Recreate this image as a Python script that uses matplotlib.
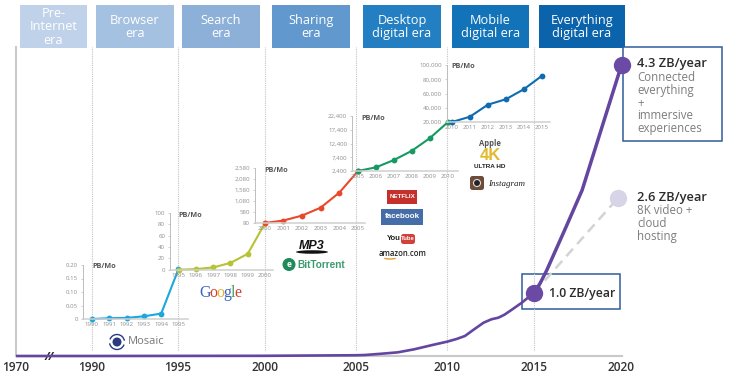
import numpy as np
import matplotlib
matplotlib.use("Agg")
import matplotlib.pyplot as plt
from matplotlib.patches import Rectangle, Circle, Ellipse, FancyBboxPatch, Arc

plt.rcParams['font.family'] = ['Open Sans', 'DejaVu Sans']

W, H = 730, 380

# ---------- data ----------
era_labels = ["Pre-\nInternet\nera", "Browser\nera", "Search\nera", "Sharing\nera",
              "Desktop\ndigital era", "Mobile\ndigital era", "Everything\ndigital era"]
era_left = [20, 96, 182, 272, 363, 452, 539]
era_right = [87, 174, 260, 350, 441, 529, 625]
era_colors = ["#bfd2ea", "#a5c1e1", "#8db0d9", "#6199cf", "#237fc1", "#1273b8", "#0b63ab"]

year_knots = [1970, 1990, 1995, 2000, 2005, 2010, 2015, 2020]
year_px = [16, 91.5, 177.5, 264.5, 356, 447, 534, 621.5]
zb_knots = [0, 1.0, 2.6, 4.3, 4.6]
zb_px = [356, 292.7, 198, 65, 47]

early_years = [1970, 1990, 2000, 2005, 2005.5, 2006.4, 2007.3, 2008.2, 2009.2, 2010, 2010.55,
               2011.03, 2011.5, 2012.1, 2012.55, 2012.95, 2013.3, 2013.7, 2014.3, 2015]
early_zb = [0, 0, 0.003, 0.012, 0.016, 0.036, 0.058, 0.106, 0.174, 0.226, 0.269,
            0.316, 0.41, 0.526, 0.58, 0.605, 0.652, 0.727, 0.842, 1.0]
late_years = [2015, 2015.35, 2015.73, 2016.8, 2017.75, 2020]
late_zb = [1.0, 1.159, 1.38, 2.09, 2.70, 4.3]
low_years = [2015, 2019.8]
low_zb = [1.0, 2.6]
era_year_lines = [1990, 1995, 2000, 2005, 2010, 2015]
main_ticks = [1970, 1990, 1995, 2000, 2005, 2010, 2015, 2020]

y90 = [1990, 1991, 1992, 1993, 1994, 1995]
v90 = [0, 0.003, 0.004, 0.01, 0.02, 0.185]
t90 = [0, 0.05, 0.10, 0.15, 0.20]
l90 = ["0", "0.05", "0.10", "0.15", "0.20"]

y95 = [1995, 1996, 1997, 1998, 1999, 2000]
v95 = [0, 1, 4, 12, 28, 82]
t95 = [0, 20, 40, 60, 80, 100]
l95 = ["0", "20", "40", "60", "80", "100"]

y00 = [2000, 2001, 2002, 2003, 2004, 2005]
v00 = [80, 190, 415, 775, 1460, 2440]
t00 = [80, 580, 1080, 1580, 2080, 2580]
l00 = ["80", "580", "1,080", "1,580", "2,080", "2,580"]

y05 = [2005, 2006, 2007, 2008, 2009, 2010]
v05 = [2400, 3745, 6400, 9780, 14400, 20200]
t05 = [2400, 7400, 12400, 17400, 22400]
l05 = ["2,400", "7,400", "12,400", "17,400", "22,400"]

y10 = [2010, 2011, 2012, 2013, 2014, 2015]
v10 = [20000, 27400, 44300, 51900, 65900, 84600]
t10 = [20000, 40000, 60000, 80000, 100000]
l10 = ["20,000", "40,000", "60,000", "80,000", "100,000"]

# ---------- figure ----------
fig = plt.figure(figsize=(W / 100, H / 100), dpi=100, facecolor="white")


def px_axes(x0, x1, ytop, ybot, z):
    ax = fig.add_axes([x0 / W, 1 - ybot / H, (x1 - x0) / W, (ybot - ytop) / H], zorder=z)
    ax.patch.set_alpha(0)
    return ax


# overlay in pixel coordinates: headers, callouts, logos
ov = fig.add_axes([0, 0, 1, 1], zorder=0)
ov.set_xlim(0, W)
ov.set_ylim(H, 0)
ov.axis("off")

for lab, a, b, c in zip(era_labels, era_left, era_right, era_colors):
    ov.add_patch(Rectangle((a, 5), b - a, 43, fc=c, ec="none"))
    ov.text((a + b) / 2, 27, lab, color="white", ha="center", va="center", fontsize=9.2,
            linespacing=1.02)

ov.add_patch(Rectangle((623, 47), 99, 94, fc="white", ec="#2f5c9c", lw=1.1))
ov.add_patch(Rectangle((521.7, 274), 98.3, 35, fc="white", ec="#2f5c9c", lw=1.1))

dark = "#2b2b2b"
grey = "#7d7d7d"
ov.text(637, 64, "4.3 ZB/year", color=dark, fontsize=9.3, fontweight="semibold", va="center")
ov.text(637, 71, "Connected\neverything\n+\nimmersive\nexperiences", color=grey, fontsize=8.3,
        va="top", linespacing=0.98)
ov.text(637, 198, "2.6 ZB/year", color=dark, fontsize=9.3, fontweight="semibold", va="center")
ov.text(637, 204, "8K video +\ncloud\nhosting", color=grey, fontsize=8.3, va="top", linespacing=0.98)
ov.text(549, 293, "1.0 ZB/year", color=dark, fontsize=8.8, fontweight="semibold", va="center")
ov.text(49, 357, "//", color="#222222", fontsize=8, fontweight="bold", style="italic",
        ha="center", va="center", zorder=6)

# PB/Mo labels
for x, y in zip([92, 178, 264.7, 361, 451], [266.7, 215.7, 171, 118, 66]):
    ov.text(x, y, "PB/Mo", color="#555555", fontsize=5.2, fontweight="bold", va="center")

# logos as text
ov.add_patch(Circle((117, 342), 4.5, fc="#2b3a80", ec="none"))
ov.add_patch(Arc((117, 342), 15, 15, theta1=200, theta2=350, ec="#2b3a80", lw=1))
ov.add_patch(Arc((117, 342), 15, 15, theta1=20, theta2=170, ec="#2b3a80", lw=1))
ov.text(128, 342, "Mosaic", color="#777777", fontsize=8, va="center")

gx = 199.5
for ch, col, adv in zip("Google", ["#3b67c4", "#d6402f", "#e6b32e", "#3b67c4", "#3f9a4a", "#d6402f"],
                        [10, 7, 7, 7, 4, 7]):
    ov.text(gx, 293, ch, color=col, fontsize=11.5, family="Liberation Serif", va="center")
    gx += adv

ov.text(312, 246, "MP3", color="#111111", fontsize=9, fontweight="bold", style="italic",
        ha="center", va="center", family="Liberation Sans")
ov.add_patch(Ellipse((312, 252), 32, 3.5, fc="#111111", ec="none"))
ov.add_patch(Circle((289, 264.5), 6.5, fc="#1f8a5b", ec="none"))
ov.text(289, 264.5, "e", color="white", fontsize=6, fontweight="bold", ha="center", va="center")
ov.text(297, 265, "BitTorrent", color="#3c9a70", fontsize=7.2, fontweight="bold", va="center",
        family="Liberation Sans")

ov.add_patch(Rectangle((387, 190), 30, 14, fc="#c4302b", ec="none"))
ov.text(402, 197, "NETFLIX", color="white", fontsize=4.5, fontweight="bold", ha="center", va="center",
        family="Liberation Sans")
ov.add_patch(Rectangle((381, 209), 42, 16, fc="#456ea8", ec="none"))
ov.text(402, 217, "facebook", color="white", fontsize=5.8, fontweight="bold", ha="center", va="center",
        family="Liberation Sans")
ov.add_patch(FancyBboxPatch((401, 234), 14, 10, boxstyle="round,pad=0,rounding_size=2.5",
                            fc="#d2403a", ec="none"))
ov.text(401, 239, "You", color="#222222", fontsize=5.6, fontweight="bold", ha="right", va="center",
        family="Liberation Sans")
ov.text(408, 239, "Tube", color="white", fontsize=4.2, fontweight="bold", ha="center", va="center",
        family="Liberation Sans")
ov.text(403, 254, "amazon.com", color="#222222", fontsize=5.6, ha="center", va="center",
        fontweight="semibold")
ov.add_patch(Arc((390, 255), 20, 8, theta1=30, theta2=150, ec="#e89a2c", lw=1))

ov.text(490, 143, "Apple", color="#555555", fontsize=5.5, fontweight="bold", ha="center", va="center")
ov.text(490, 156, "4K", color="#e2b92f", fontsize=12, fontweight="bold", ha="center", va="center",
        family="Liberation Sans")
ov.text(490, 167, "ULTRA HD", color="#222222", fontsize=4.6, fontweight="bold", ha="center", va="center",
        family="Liberation Sans")
ov.add_patch(FancyBboxPatch((470, 176), 14, 14, boxstyle="round,pad=0,rounding_size=2.5",
                            fc="#6d4c3a", ec="none"))
ov.add_patch(Circle((477, 183), 3.5, fc="#222222", ec="#dddddd", lw=0.8))
ov.text(488, 183.5, "Instagram", color="#222222", fontsize=6.5, style="italic", va="center",
        family="Liberation Serif")

# ---------- main chart ----------
ax = px_axes(16, 621.5, 47, 356, 1)


def year_fwd(v):
    return np.interp(v, year_knots, year_px)


def year_inv(v):
    return np.interp(v, year_px, year_knots)


def zb_fwd(v):
    return -np.interp(v, zb_knots, zb_px)


def zb_inv(v):
    return np.interp(-np.asarray(v), zb_px[::-1], zb_knots[::-1])


ax.set_xscale("function", functions=(year_fwd, year_inv))
ax.set_yscale("function", functions=(zb_fwd, zb_inv))
ax.set_xlim(1970, 2020)
ax.set_ylim(0, 4.6)
for s in ["top", "right"]:
    ax.spines[s].set_visible(False)
ax.spines["left"].set_color("#c9c9c9")
ax.spines["left"].set_linewidth(1.5)
ax.spines["bottom"].set_color("#c9c9c9")
ax.spines["bottom"].set_linewidth(1.5)
ax.set_yticks([])
ax.minorticks_off()
ax.set_xticks(main_ticks)
ax.set_xticklabels([str(t) for t in main_ticks])
ax.tick_params(axis="x", which="both", length=0, pad=3.5, labelsize=8.6, labelcolor="#333333")
ax.tick_params(axis="y", which="both", length=0, labelleft=False)
for lab in ax.get_xticklabels():
    lab.set_fontweight("semibold")

ax.vlines(era_year_lines, 0.095, 4.6, colors="#c4c4c4", lw=0.8, linestyles=(0, (1, 1)), zorder=1)
ax.plot(low_years, low_zb, color="#d3d3d3", lw=1.8, ls=(0, (4, 2.5)), clip_on=False, zorder=2)
ax.plot(early_years, early_zb, color="#64459f", lw=1.9, clip_on=False, zorder=4,
        solid_capstyle="butt", solid_joinstyle="round")
ax.plot(late_years, late_zb, color="#64459f", lw=2.5, clip_on=False, zorder=4,
        solid_capstyle="butt", solid_joinstyle="round")
ax.plot([2015, 2020], [1.0, 4.3], ls="none", marker="o", ms=12.5, color="#6a4aa5", mec="none",
        clip_on=False, zorder=5)
ax.plot([2019.8], [2.6], ls="none", marker="o", ms=12.5, color="#d8d4e8", mec="none",
        clip_on=False, zorder=3)


# ---------- inset charts ----------
def inset(x0, x1, ytop, ybot, xa, xb, ya, yb, years, vals, ticks, labels, color):
    a = px_axes(x0, x1, ytop, ybot, 2)
    span = (years[-1] - years[0]) / (xb - xa)
    a.set_xlim(years[0] - (xa - x0) * span, years[-1] + (x1 - xb) * span)
    a.set_ylim(ya, yb)
    for s in ["top", "right"]:
        a.spines[s].set_visible(False)
    a.spines["left"].set_color("#bdbdbd")
    a.spines["left"].set_linewidth(0.7)
    a.spines["bottom"].set_color("#cfcfcf")
    a.spines["bottom"].set_linewidth(1.1)
    a.set_xticks(years)
    a.set_xticklabels([str(y) for y in years])
    a.set_yticks(ticks)
    a.set_yticklabels(labels)
    a.tick_params(axis="x", length=0, pad=2.5, labelsize=4.4, labelcolor="#8f8f8f")
    a.tick_params(axis="y", length=1.5, width=0.5, color="#bdbdbd", pad=2, labelsize=4.4,
                  labelcolor="#8f8f8f")
    a.plot(years, vals, color=color, lw=1.5, marker="o", ms=4.2, mec="none", clip_on=False)
    return a


inset(83, 188, 265, 319, 92, 178.5, 0, 0.20, y90, v90, t90, l90, "#1ca8dd")
inset(170, 273, 213, 269.7, 178.7, 265, 0, 100, y95, v95, t95, l95, "#b5c334")
inset(255, 365, 168, 223, 264.5, 358, 80, 2580, y00, v00, t00, l00, "#e9492b")
inset(352, 458, 116, 171, 358, 448, 2400, 22400, y05, v05, t05, l05, "#159a64")
inset(447, 550, 65, 122, 452, 541.7, 20000, 100000, y10, v10, t10, l10, "#0f6cb0")

fig.savefig("out.png", dpi=100)
